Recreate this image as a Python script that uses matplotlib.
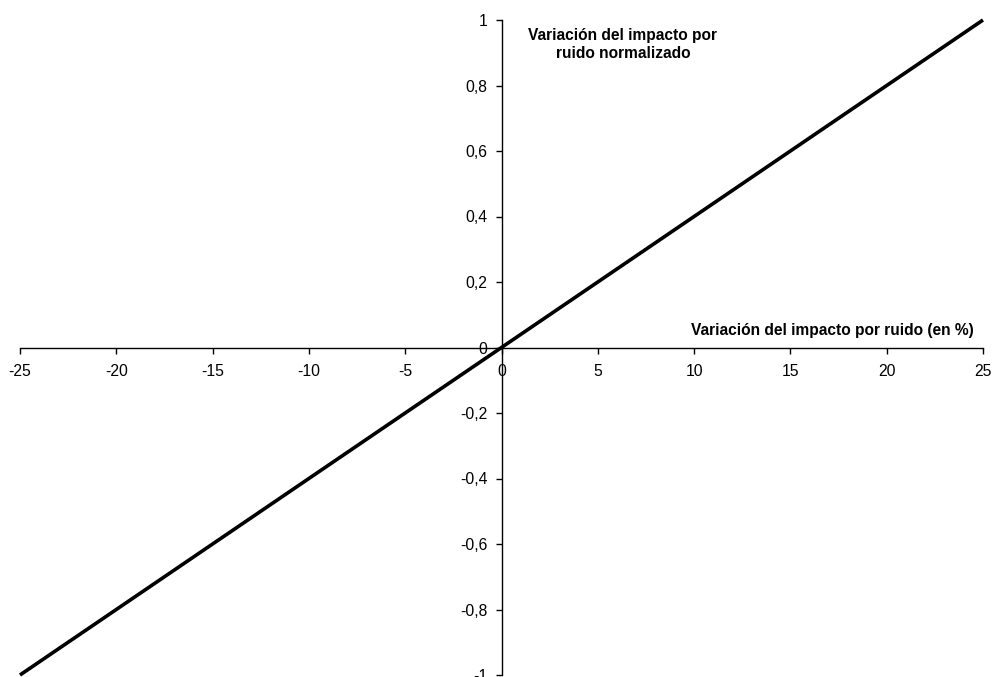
import numpy as np
import matplotlib.pyplot as plt

# data
variacion_ruido = [-25, 25]          # x: variación del impacto por ruido (en %)
variacion_normalizada = [-1, 1]      # y: variación del impacto normalizado
x_ticks = [-25, -20, -15, -10, -5, 0, 5, 10, 15, 20, 25]
y_ticks = [-1, -0.8, -0.6, -0.4, -0.2, 0, 0.2, 0.4, 0.6, 0.8, 1]

plt.rcParams['font.family'] = ['Liberation Sans', 'DejaVu Sans']

fig = plt.figure(figsize=(9.92, 6.77), dpi=100)
ax = fig.add_axes([20 / 992, 2 / 677, 963 / 992, 655 / 677])

ax.plot(variacion_ruido, variacion_normalizada, color='black', lw=2.6,
        solid_capstyle='butt', clip_on=False)

ax.set_xlim(-25, 25)
ax.set_ylim(-1, 1)

# axes crossing at zero
ax.spines['left'].set_position(('data', 0))
ax.spines['bottom'].set_position(('data', 0))
ax.spines['right'].set_visible(False)
ax.spines['top'].set_visible(False)
for s in ('left', 'bottom'):
    ax.spines[s].set_linewidth(1.0)

ax.set_xticks(x_ticks)
ax.set_xticklabels([str(v) for v in x_ticks])
ax.set_yticks(y_ticks)
ax.set_yticklabels([('%g' % v).replace('.', ',') for v in y_ticks])
ax.tick_params(axis='both', direction='out', length=4, width=1, labelsize=11.3)
ax.tick_params(axis='x', pad=8)
ax.tick_params(axis='y', pad=6)

ax.text(24.5, 0.03, 'Variación del impacto por ruido (en %)', ha='right',
        va='bottom', fontsize=11.2, fontweight='bold')
ax.text(6.3, 0.975, 'Variación del impacto por\nruido normalizado', ha='center',
        va='top', fontsize=11.2, fontweight='bold', linespacing=1.25)

fig.savefig('out.png', dpi=100)
